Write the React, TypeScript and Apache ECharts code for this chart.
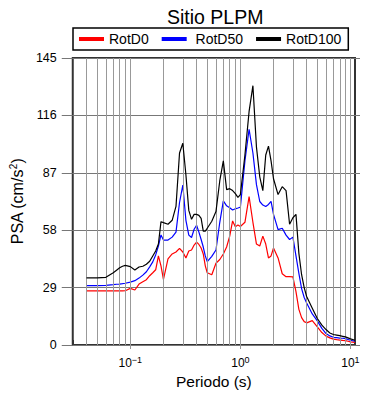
import React, { useEffect, useRef } from "react";
import * as echarts from "echarts";

const periods = [
  0.04, 0.05, 0.06, 0.07, 0.075, 0.08, 0.085, 0.09,
  0.1, 0.11, 0.12, 0.13, 0.14, 0.15, 0.16, 0.17, 0.18, 0.19, 0.2,
  0.22, 0.24, 0.26, 0.28, 0.3, 0.32, 0.34, 0.36, 0.38, 0.4, 0.42, 0.44, 0.46, 0.48, 0.5,
  0.55, 0.6, 0.65, 0.7, 0.75, 0.8, 0.85, 0.9, 0.95, 1.0,
  1.1, 1.2, 1.3, 1.4, 1.5, 1.6, 1.7, 1.8, 1.9, 2.0,
  2.2, 2.4, 2.6, 2.8, 3.0, 3.2, 3.4, 3.6, 3.8, 4.0,
  4.5, 5, 5.5, 6, 6.5, 7, 7.5, 8, 8.5, 9, 9.5, 10, 11,
];

const rotD0 = [
  27.3, 27.3, 27.3, 27.3, 27.3, 27.3, 27.3, 27.4,
  28.6, 27.8, 30.8, 32.0, 33.0, 35.0, 36.5, 38.0, 45.0, 40.0, 33.2,
  43.5, 46.0, 47.0, 48.8, 47.0, 44.0, 47.5, 48.0, 50.5, 52.0, 50.8, 49.0, 46.0, 40.0, 36.5,
  35.5, 41.3, 43.2, 46.0, 49.5, 55.0, 62.7, 59.8, 60.6, 59.9,
  62.0, 75.0, 62.0, 51.0, 50.0, 55.0, 51.0, 44.0, 45.0, 49.0,
  44.0, 36.0, 34.5, 34.5, 34.4, 27.0, 18.0, 13.8, 11.8, 11.2,
  12.3, 9.2, 6.3, 4.5, 3.6, 3.0, 2.7, 2.5, 2.3, 2.2, 1.9, 1.6, 1.3,
];

const rotD50 = [
  30.0, 30.0, 30.1, 30.5, 30.7, 30.8, 31.0, 31.2,
  31.8, 32.5, 33.8, 35.3, 37.0, 39.5, 42.0, 45.5, 50.0, 55.6, 53.0,
  53.0, 54.5, 57.0, 72.0, 80.8, 63.0, 55.5, 54.3, 58.5, 60.5, 57.0, 53.3, 49.5, 45.0, 42.1,
  44.8, 48.0, 62.0, 72.8, 70.3, 69.3, 68.2, 68.8, 69.2, 69.6,
  93.0, 109.0, 97.0, 81.0, 72.5, 70.7, 70.0, 71.0, 72.6, 66.0,
  58.3, 59.0, 55.5, 53.3, 54.5, 45.0, 36.2, 28.5, 24.0, 21.2,
  15.7, 12.2, 8.4, 5.8, 4.6, 3.9, 3.7, 3.5, 3.4, 3.2, 2.8, 2.4, 1.9,
];

const rotD100 = [
  33.9, 33.9, 34.2, 36.5, 37.8, 39.0, 39.8, 40.2,
  39.6, 37.9, 39.4, 39.8, 40.8, 42.3, 45.0, 47.5, 51.0, 62.3, 61.8,
  61.0, 63.0, 70.0, 97.0, 101.9, 86.0, 68.0, 63.5, 66.0, 66.0, 65.5, 64.0, 57.5, 57.5, 59.0,
  62.5, 67.4, 83.0, 93.0, 78.5, 79.0, 78.0, 76.5, 74.6, 76.0,
  96.0, 118.0, 131.0, 100.0, 85.0, 78.0, 96.0, 100.5, 93.0, 84.0,
  76.0, 80.0, 78.0, 61.0, 64.3, 66.0, 46.3, 35.5, 29.0, 24.5,
  18.6, 13.4, 10.0, 7.8, 6.1, 5.3, 5.0, 4.7, 4.4, 4.1, 3.6, 3.1, 2.4,
];

const seriesNames = ["RotD0", "RotD50", "RotD100"];
const seriesColors = ["#ff0000", "#0000ff", "#000000"];
const gridPeriods = [
  0.04, 0.05, 0.06, 0.07, 0.08, 0.09,
  0.1, 0.2, 0.3, 0.4, 0.5, 0.6, 0.7, 0.8, 0.9,
  1, 2, 3, 4, 5, 6, 7, 8, 9, 10,
];

const FONT = "'Liberation Sans', Arial, Helvetica, sans-serif";

function fmtPow(v: number): string {
  const e = Math.log10(v);
  const r = Math.round(e);
  if (Math.abs(e - r) > 1e-6) return "";
  return "10{sup|" + (r < 0 ? "\u2212" + -r : String(r)) + "}";
}

export default function App() {
  const ref = useRef<HTMLDivElement>(null);
  useEffect(() => {
    if (!ref.current) return;
    const chart = echarts.init(ref.current, undefined, { renderer: "svg" });
    const allData = [rotD0, rotD50, rotD100];
    const option: any = {
      animation: false,
      textStyle: { fontFamily: FONT, color: "#000" },
      title: {
        text: "Sitio PLPM",
        left: 162,
        top: 2,
        textStyle: { fontFamily: FONT, fontSize: 19.5, fontWeight: "normal", color: "#000" },
      },
      legend: {
        data: seriesNames,
        left: 73,
        top: 28,
        padding: [4, 7, 4, 6],
        itemGap: 13,
        itemWidth: 25,
        itemHeight: 4,
        icon: "rect",
        borderColor: "#000",
        borderWidth: 1.5,
        borderRadius: 0,
        backgroundColor: "#fff",
        formatter: (name: string) => (name === "RotD50" ? " " + name : name),
        textStyle: { fontFamily: FONT, fontSize: 14, color: "#000" },
      },
      grid: {
        left: 67,
        right: 35,
        top: 58,
        bottom: 55,
        show: true,
        borderColor: "#333",
        borderWidth: 2,
        backgroundColor: "transparent",
      },
      xAxis: [
        {
          type: "log",
          logBase: 10,
          min: 0.03,
          max: 11,
          name: "Periodo (s)",
          nameLocation: "middle",
          nameGap: 26,
          nameTextStyle: { fontFamily: FONT, fontSize: 15.5, color: "#000" },
          axisLine: { show: false },
          axisTick: { show: true, inside: false, length: 4, lineStyle: { color: "#999" } },
          splitLine: { show: false },
          axisLabel: {
            showMinLabel: false,
            showMaxLabel: false,
            margin: 10,
            color: "#000",
            fontFamily: FONT,
            fontSize: 12,
            formatter: fmtPow,
            rich: {
              sup: { fontSize: 9, verticalAlign: "top", padding: [0, 0, 7, 0], fontFamily: FONT },
            },
          },
        },
        {
          type: "log",
          logBase: 10,
          min: 0.03,
          max: 11,
          position: "top",
          axisLine: { show: false },
          axisTick: { show: true, inside: false, length: 5, lineStyle: { color: "#333" } },
          splitLine: { show: false },
          axisLabel: { show: false },
        },
      ],
      yAxis: [
        {
          type: "value",
          min: 0,
          max: 145,
          interval: 29,
          name: "PSA (cm/s{sup|2})",
          nameLocation: "middle",
          nameGap: 35,
          nameTextStyle: {
            fontFamily: FONT,
            fontSize: 16,
            color: "#000",
            rich: { sup: { fontSize: 10, padding: [0, 0, 8, 0], fontFamily: FONT } },
          },
          axisLine: { show: false },
          axisTick: { show: true, inside: false, length: 11, lineStyle: { color: "#777" } },
          splitLine: { show: true, lineStyle: { color: "#777", width: 1 } },
          axisLabel: { margin: 16, color: "#000", fontFamily: FONT, fontSize: 12.5 },
        },
        {
          type: "value",
          min: 0,
          max: 145,
          interval: 29,
          position: "right",
          axisLine: { show: false },
          axisTick: { show: true, inside: false, length: 5, lineStyle: { color: "#777" } },
          splitLine: { show: false },
          axisLabel: { show: false },
        },
      ],
      series: [
        {
          name: "grid",
          type: "line",
          data: [],
          z: 1,
          silent: true,
          markLine: {
            silent: true,
            symbol: ["none", "none"],
            label: { show: false },
            lineStyle: { color: "#999", width: 1, type: "solid" },
            emphasis: { disabled: true },
            data: gridPeriods.map((p) => ({ xAxis: p })),
          },
        },
        ...seriesNames.map((name, i) => ({
          name,
          type: "line",
          xAxisIndex: 0,
          yAxisIndex: 0,
          z: 3 + i,
          showSymbol: false,
          symbol: "none",
          color: seriesColors[i],
          lineStyle: { color: seriesColors[i], width: 1.2 },
          emphasis: { disabled: true },
          data: periods.map((p, k) => [p, allData[i][k]]),
        })),
      ],
    };
    chart.setOption(option);
    return () => chart.dispose();
  }, []);
  return <div ref={ref} style={{ width: 390, height: 400, position: "absolute", left: 0, top: 0 }} />;
}
